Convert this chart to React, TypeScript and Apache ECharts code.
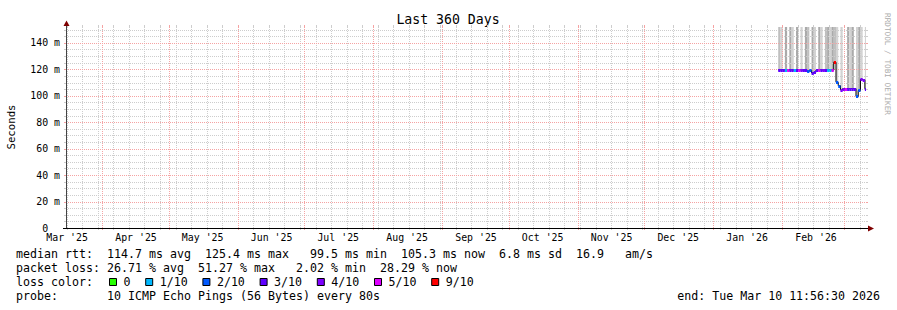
import React, { useEffect, useRef } from 'react';
import * as echarts from 'echarts';

// ---------------- data ----------------
const RANGE_START = Date.UTC(2025, 2, 15, 11, 56, 30);
const RANGE_END = Date.UTC(2026, 2, 10, 11, 56, 30);
const Y_MAX = 152;

const monthLabels = ["Mar '25", "Apr '25", "May '25", "Jun '25", "Jul '25", "Aug '25", "Sep '25", "Oct '25", "Nov '25", "Dec '25", "Jan '26", "Feb '26"];
const monthLabelMonthStarts = ['2025-03-01', '2025-04-01', '2025-05-01', '2025-06-01', '2025-07-01', '2025-08-01', '2025-09-01', '2025-10-01', '2025-11-01', '2025-12-01', '2026-01-01', '2026-02-01'];
const monthGridStarts = ['2025-04-01', '2025-05-01', '2025-06-01', '2025-07-01', '2025-08-01', '2025-09-01', '2025-10-01', '2025-11-01', '2025-12-01', '2026-01-01', '2026-02-01', '2026-03-01'];
const firstWeekStart = '2025-03-16';
const yMajorTicks = [0, 20, 40, 60, 80, 100, 120, 140];
const yMinorTicks = [5, 10, 15, 25, 30, 35, 45, 50, 55, 65, 70, 75, 85, 90, 95, 105, 110, 115, 125, 130, 135, 145, 150];

const sampleFirstDay = '2026-01-30';
const medianRtt = [119.5, 119.6, 119.4, 119.5, 119.6, 119.5, 119.4, 119.5, 119.6, 119.5, 119.4, 119.5, 119.5, 118.4, 119.3, 117.2, 117.8, 119.5, 119.6, 119.4, 119.5, 119.5, 119.6, 119.5, 119.4, 125.4, 110.2, 107.6, 104.4, 105.4, 105.4, 105.3, 105.4, 105.4, 105.4, 99.5, 104.0, 112.3, 112.1, 105.3];
const packetLossPct = [25, 28, 22, 8, 45, 25, 25, 9, 28, 42, 33, 27, 26, 18, 15, 30, 22, 28, 44, 24, 31, 26, 2.02, 9, 46, 51.27, 18, 15, 35, 33, 46, 28, 30, 24, 26, 12, 16, 37, 39, 28.29];
const smokeTop = [171, 158, 119.4, 186, 119.6, 192, 160, 119.5, 165, 119.5, 162, 119.5, 183, 174, 119.3, 188, 166, 119.5, 163, 160, 119.5, 164, 185, 161, 190, 176, 158, 107.6, 157, 105.4, 105.4, 181, 162, 178, 105.4, 159, 184, 163, 112.1, 158];
const smokeDensity = [2, 1, 0, 3, 0, 3, 1, 0, 3, 0, 1, 0, 3, 2, 0, 3, 1, 0, 3, 1, 0, 2, 3, 1, 3, 2, 1, 0, 1, 0, 0, 3, 1, 3, 0, 1, 3, 1, 0, 1];

const lossLabels = ['0', '1/10', '2/10', '3/10', '4/10', '5/10', '9/10'];
const lossUpper = [0, 1, 2, 3, 4, 5, 10];

const rttLegend = 'median rtt:  114.7 ms avg  125.4 ms max   99.5 ms min  105.3 ms now  6.8 ms sd  16.9   am/s';
const lossLegend = 'packet loss: 26.71 % avg  51.27 % max   2.02 % min  28.29 % now';
const probeLegend = 'probe:       10 ICMP Echo Pings (56 Bytes) every 80s';
const endLegend = 'end: Tue Mar 10 11:56:30 2026';
const titleText = 'Last 360 Days';

// ---------------- styles ----------------
const MONO = '"DejaVu Sans Mono", monospace';
const DAY = 86400000;
const lossColors = ['#26ff00', '#00b8ff', '#0059ff', '#5e00ff', '#7e00ff', '#dd00ff', '#ff0000'];
const smokeColors = ['', '#d3d3d3', '#bfbfbf', '#aaaaaa'];
const MINOR = '#cdcdcd';
const MAJOR = '#f5a3a3';
const CW = 7.0;
const LEG_FS = CW / 0.6021;

const toMs = (d: string) => new Date(d + 'T00:00:00Z').getTime();

function lossBin(p: number) {
  const c = p / 10;
  for (let k = 0; k < lossUpper.length; k++) if (c <= lossUpper[k]) return k;
  return lossUpper.length - 1;
}

function monoLine(str: string, x0: number, y: number) {
  const out: any[] = [];
  const re = /\S+/g;
  let m: RegExpExecArray | null;
  while ((m = re.exec(str))) {
    out.push({
      type: 'text', x: x0 + m.index * CW, y, silent: true,
      style: { text: m[0], fontFamily: MONO, fontSize: LEG_FS, fill: '#000', align: 'left', verticalAlign: 'middle' },
    });
  }
  return out;
}

export default function App() {
  const ref = useRef<HTMLDivElement>(null);
  useEffect(() => {
    document.body.style.margin = '0';
    if (!ref.current) return;
    const chart = echarts.init(ref.current, undefined, { renderer: 'svg' });

    const first = toMs(sampleFirstDay);
    const samples = medianRtt.map((v, i) => {
      const t = first + i * DAY;
      return { t, tEnd: Math.min(t + DAY, RANGE_END), v };
    });
    const weeks: number[] = [];
    for (let t = toMs(firstWeekStart); t < RANGE_END; t += 7 * DAY) weeks.push(t);
    const monthGrid = monthGridStarts.map(toMs);
    const labelTimes = monthLabelMonthStarts.map((d) => toMs(d) + 15 * DAY);

    const vGrid = (times: number[], color: string, z: number) => ({
      type: 'custom', z, silent: true, clip: false,
      data: times.map((t) => [t, 0]),
      renderItem: (params: any, api: any) => {
        const cs = params.coordSys;
        const x = Math.floor(api.coord([api.value(0), 0])[0]) + 0.5;
        const top = cs.y;
        const bottom = cs.y + cs.height;
        return {
          type: 'group', children: [
            { type: 'line', shape: { x1: x, y1: top, x2: x, y2: bottom }, style: { stroke: color, lineWidth: 1, lineDash: [1, 1] } },
            { type: 'line', shape: { x1: x, y1: top - 2, x2: x, y2: top }, style: { stroke: color, lineWidth: 1 } },
            { type: 'line', shape: { x1: x, y1: bottom, x2: x, y2: bottom + 2 }, style: { stroke: color, lineWidth: 1 } },
          ],
        };
      },
    });
    const hGrid = (vals: number[], color: string, z: number) => ({
      type: 'custom', z, silent: true, clip: false,
      data: vals.filter((v) => v > 0).map((v) => [RANGE_START, v]),
      renderItem: (params: any, api: any) => {
        const cs = params.coordSys;
        const y = Math.round(api.coord([RANGE_START, api.value(1)])[1]) + 0.5;
        const left = cs.x;
        const right = cs.x + cs.width;
        return {
          type: 'group', children: [
            { type: 'line', shape: { x1: left, y1: y, x2: right, y2: y }, style: { stroke: color, lineWidth: 1, lineDash: [1, 1] } },
            { type: 'line', shape: { x1: left - 2, y1: y, x2: left, y2: y }, style: { stroke: color, lineWidth: 1 } },
            { type: 'line', shape: { x1: right, y1: y, x2: right + 2, y2: y }, style: { stroke: color, lineWidth: 1 } },
          ],
        };
      },
    });

    const graphics: any[] = [];
    graphics.push({ type: 'text', x: 448, y: 19.5, silent: true, style: { text: titleText, fontFamily: MONO, fontSize: 13.2, fill: '#000', align: 'center', verticalAlign: 'middle' } });
    graphics.push({ type: 'text', x: 11, y: 127, rotation: Math.PI / 2, silent: true, style: { text: 'Seconds', fontFamily: MONO, fontSize: 10.7, fill: '#000', align: 'center', verticalAlign: 'middle' } });
    graphics.push({ type: 'text', x: 887.5, y: 64, rotation: -Math.PI / 2, silent: true, style: { text: 'RRDTOOL / TOBI OETIKER', fontFamily: MONO, fontSize: 7.7, fill: '#ababab', align: 'center', verticalAlign: 'middle' } });
    // axes lines & arrows
    graphics.push({ type: 'line', z: 20, silent: true, shape: { x1: 66.5, y1: 229, x2: 66.5, y2: 25 }, style: { stroke: '#454545', lineWidth: 1 } });
    graphics.push({ type: 'line', z: 20, silent: true, shape: { x1: 63, y1: 228.5, x2: 868, y2: 228.5 }, style: { stroke: '#000', lineWidth: 1 } });
    graphics.push({ type: 'polygon', z: 21, silent: true, shape: { points: [[63.5, 26], [69.5, 26], [66.5, 20.5]] }, style: { fill: '#7f0000' } });
    graphics.push({ type: 'polygon', z: 21, silent: true, shape: { points: [[868, 225.5], [868, 231.5], [874, 228.5]] }, style: { fill: '#7f0000' } });
    // legend
    graphics.push(...monoLine(rttLegend, 16, 254.3));
    graphics.push(...monoLine(lossLegend, 16, 268.3));
    graphics.push(...monoLine('loss color:', 16, 282.3));
    graphics.push(...monoLine(probeLegend, 16, 296.3));
    graphics.push({ type: 'text', x: 880, y: 296.3, silent: true, style: { text: endLegend, fontFamily: MONO, fontSize: LEG_FS, fill: '#000', align: 'right', verticalAlign: 'middle' } });
    let sx = 109.5;
    lossLabels.forEach((lab, k) => {
      graphics.push({ type: 'rect', silent: true, shape: { x: sx, y: 278.5, width: 7, height: 7 }, style: { fill: lossColors[k], stroke: '#000', lineWidth: 1 } });
      const tx = sx + 14;
      graphics.push({ type: 'text', x: tx, y: 282.3, silent: true, style: { text: lab, fontFamily: MONO, fontSize: LEG_FS, fill: '#000', align: 'left', verticalAlign: 'middle' } });
      sx = tx + lab.length * CW + 15.2;
    });

    const option: any = {
      animation: false,
      backgroundColor: '#ffffff',
      textStyle: { fontFamily: MONO },
      grid: { left: 66, top: 27, right: 31, bottom: 82, containLabel: false },
      xAxis: { type: 'value', min: RANGE_START, max: RANGE_END, show: false },
      yAxis: {
        type: 'value', min: 0, max: Y_MAX, interval: 20,
        axisLine: { show: false }, axisTick: { show: false }, splitLine: { show: false },
        axisLabel: {
          showMaxLabel: false, margin: 6, fontFamily: MONO, fontSize: 9.9, color: '#000',
          formatter: (v: number) => (yMajorTicks.indexOf(v) < 0 ? '' : v === 0 ? '{z|0}' : `${v} m`),
          rich: { z: { fontFamily: MONO, fontSize: 9.9, color: '#000', padding: [0, 11.9, 0, 0] } },
        },
      },
      series: [
        {
          type: 'custom', name: 'smoke', z: 1, silent: true, clip: false,
          data: samples.map((s, i) => [s.t, s.tEnd, s.v, smokeTop[i], smokeDensity[i]]),
          renderItem: (params: any, api: any) => {
            const d = api.value(4);
            if (!d) return null;
            const cs = params.coordSys;
            const p0 = api.coord([api.value(0), api.value(2)]);
            const p1 = api.coord([api.value(1), api.value(3)]);
            const top = Math.max(p1[1], cs.y);
            return { type: 'rect', shape: { x: p0[0], y: top, width: p1[0] - p0[0], height: p0[1] - top }, style: { fill: smokeColors[d] } };
          },
        },
        vGrid(weeks, MINOR, 2),
        hGrid(yMinorTicks, MINOR, 2),
        vGrid(monthGrid, MAJOR, 3),
        hGrid(yMajorTicks, MAJOR, 3),
        {
          type: 'line', name: 'median', z: 5, step: 'end', symbol: 'none', silent: true,
          data: [...samples.map((s) => [s.t, s.v]), [samples[samples.length - 1].tEnd, samples[samples.length - 1].v]],
          lineStyle: { color: '#000', width: 1 },
        },
        {
          type: 'custom', name: 'loss', z: 6, silent: true, clip: false,
          data: samples.map((s, i) => [s.t, s.tEnd, s.v, lossBin(packetLossPct[i])]),
          renderItem: (params: any, api: any) => {
            const p0 = api.coord([api.value(0), api.value(2)]);
            const p1 = api.coord([api.value(1), api.value(2)]);
            return { type: 'rect', shape: { x: p0[0], y: Math.round(p0[1]) - 1, width: p1[0] - p0[0], height: 3 }, style: { fill: lossColors[api.value(3)] } };
          },
        },
        {
          type: 'custom', name: 'months', z: 7, silent: true, clip: false,
          data: labelTimes.map((t) => [t, 0]),
          renderItem: (params: any, api: any) => {
            const p = api.coord([api.value(0), 0]);
            return { type: 'text', x: p[0], y: p[1] + 9.5, style: { text: monthLabels[params.dataIndex], fontFamily: MONO, fontSize: 9.9, fill: '#000', align: 'center', verticalAlign: 'middle' } };
          },
        },
      ],
      graphic: graphics,
    };
    chart.setOption(option);
    return () => chart.dispose();
  }, []);
  return <div ref={ref} style={{ position: 'absolute', left: 0, top: 0, width: 897, height: 310 }} />;
}
